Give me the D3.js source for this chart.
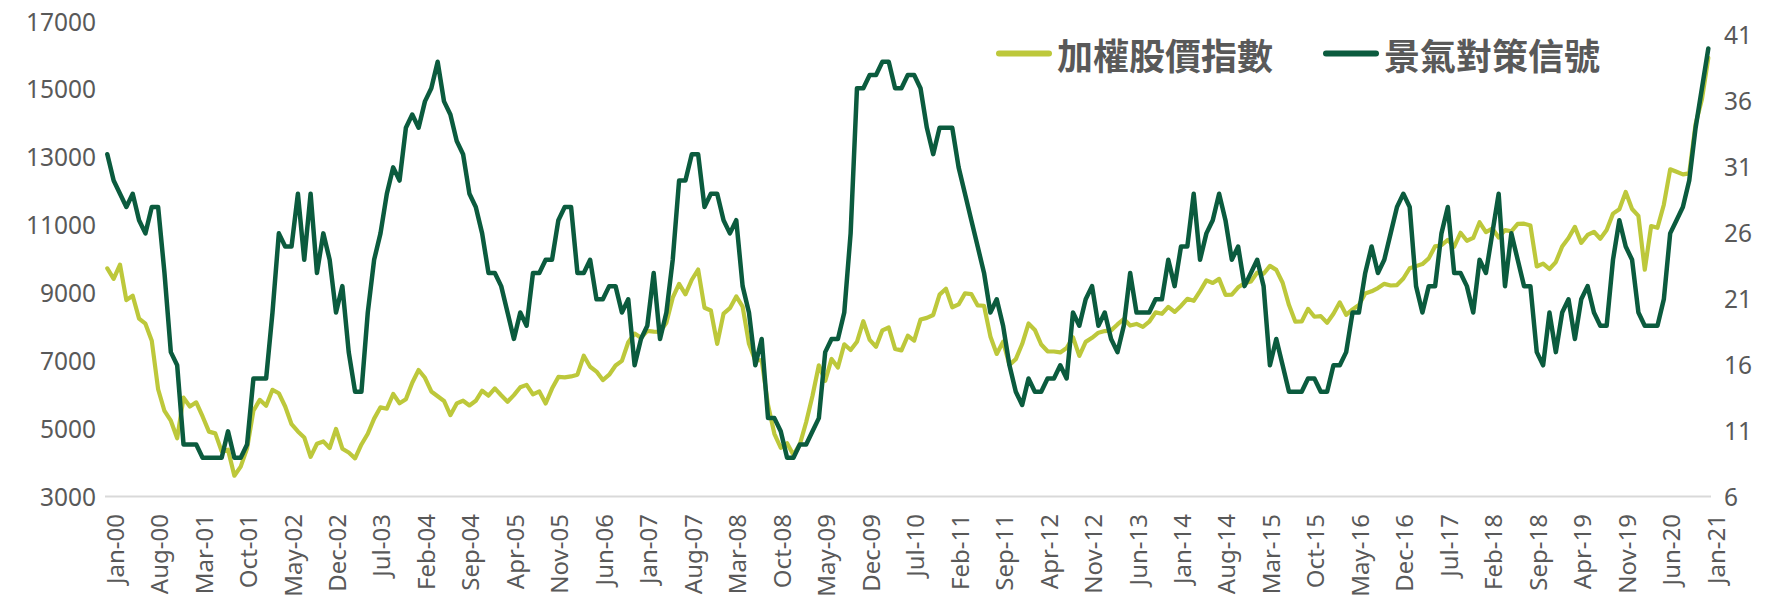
<!DOCTYPE html>
<html>
<head>
<meta charset="utf-8">
<script src="https://cdn.jsdelivr.net/npm/d3@7"></script>
<style>
  body { margin: 0; background: #fff; }
  svg { display: block; }
</style>
</head>
<body>
<div id="chart"></div>
<script>
// monthly categories, Jan-00 .. Jan-21
const months = d3.timeMonth
  .range(new Date(2000, 0, 1), new Date(2021, 1, 1))
  .map(d3.timeFormat("%b-%y"));

const xTickLabels = [
  "Jan-00", "Aug-00", "Mar-01", "Oct-01", "May-02", "Dec-02", "Jul-03", "Feb-04",
  "Sep-04", "Apr-05", "Nov-05", "Jun-06", "Jan-07", "Aug-07", "Mar-08", "Oct-08",
  "May-09", "Dec-09", "Jul-10", "Feb-11", "Sep-11", "Apr-12", "Nov-12", "Jun-13",
  "Jan-14", "Aug-14", "Mar-15", "Oct-15", "May-16", "Dec-16", "Jul-17", "Feb-18",
  "Sep-18", "Apr-19", "Nov-19", "Jun-20", "Jan-21"
];
const leftTicks = [3000, 5000, 7000, 9000, 11000, 13000, 15000, 17000];
const rightTicks = [6, 11, 16, 21, 26, 31, 36, 41];

const seriesNames = ["加權股價指數", "景氣對策信號"];

// 加權股價指數 (left axis), one value per month
const taiex = [
  9745, 9436, 9855, 8812, 8940, 8265, 8115, 7616, 6185, 5544, 5257, 4739,
  5936, 5675, 5798, 5382, 4935, 4884, 4353, 4404, 3637, 3903, 4441, 5551,
  5872, 5696, 6167, 6066, 5675, 5154, 4940, 4764, 4192, 4579, 4647, 4452,
  5015, 4432, 4321, 4148, 4556, 4872, 5318, 5651, 5611, 6045, 5772, 5891,
  6375, 6751, 6522, 6118, 5978, 5839, 5421, 5766, 5846, 5706, 5845, 6140,
  5994, 6208, 6006, 5818, 6012, 6242, 6312, 6034, 6119, 5764, 6203, 6548,
  6533, 6562, 6614, 7172, 6847, 6704, 6455, 6612, 6883, 7021, 7568, 7824,
  7700, 7902, 7884, 7875, 8145, 8883, 9287, 8982, 9411, 9711, 8586, 8506,
  7521, 8413, 8573, 8920, 8619, 7524, 7024, 7046, 5719, 4871, 4460, 4591,
  4248, 4557, 5211, 5993, 6890, 6432, 7078, 6826, 7509, 7340, 7582, 8188,
  7640, 7436, 7920, 8004, 7374, 7329, 7761, 7617, 8238, 8287, 8372, 8973,
  9145, 8600, 8683, 9008, 8989, 8653, 8644, 7741, 7225, 7588, 6904, 7072,
  7517, 8121, 7933, 7502, 7302, 7296, 7270, 7397, 7715, 7166, 7580, 7700,
  7850, 7898, 7919, 8094, 8255, 8062, 8108, 8022, 8174, 8450, 8407, 8612,
  8463, 8640, 8849, 8791, 9076, 9393, 9316, 9436, 8967, 8975, 9187, 9307,
  9362, 9622, 9586, 9820, 9701, 9323, 8665, 8175, 8181, 8554, 8321, 8338,
  8145, 8411, 8745, 8378, 8536, 8667, 9008, 9069, 9167, 9290, 9241, 9254,
  9448, 9750, 9812, 9872, 10041, 10395, 10427, 10586, 10384, 10794, 10560, 10643,
  11104, 10815, 10919, 10658, 10875, 10837, 11058, 11064, 11006, 9802, 9888, 9727,
  9932, 10389, 10641, 10968, 10498, 10731, 10824, 10618, 10875, 11359, 11490, 11997,
  11495, 11292, 9708, 10992, 10942, 11621, 12665, 12591, 12516, 12547, 14000, 14733,
  15950
];

// 景氣對策信號 score (right axis), one value per month
const signal = [
  32, 30, 29, 28, 29, 27, 26, 28, 28, 23, 17, 16,
  10, 10, 10, 9, 9, 9, 9, 11, 9, 9, 10, 15,
  15, 15, 20, 26, 25, 25, 29, 24, 29, 23, 26, 24,
  20, 22, 17, 14, 14, 20, 24, 26, 29, 31, 30, 34,
  35, 34, 36, 37, 39, 36, 35, 33, 32, 29, 28, 26,
  23, 23, 22, 20, 18, 20, 19, 23, 23, 24, 24, 27,
  28, 28, 23, 23, 24, 21, 21, 22, 22, 20, 21, 16,
  18, 19, 23, 18, 20, 24, 30, 30, 32, 32, 28, 29,
  29, 27, 26, 27, 22, 20, 16, 18, 12, 12, 11, 9,
  9, 10, 10, 11, 12, 17, 18, 18, 20, 26, 37, 37,
  38, 38, 39, 39, 37, 37, 38, 38, 37, 34, 32, 34,
  34, 34, 31, 29, 27, 25, 23, 20, 21, 19, 16, 14,
  13, 15, 14, 14, 15, 15, 16, 15, 20, 19, 21, 22,
  19, 20, 18, 17, 19, 23, 20, 20, 20, 21, 21, 24,
  22, 25, 25, 29, 24, 26, 27, 29, 27, 24, 25, 22,
  23, 24, 22, 16, 18, 16, 14, 14, 14, 15, 15, 14,
  14, 16, 16, 17, 20, 20, 23, 25, 23, 24, 26, 28,
  29, 28, 22, 20, 22, 22, 26, 28, 23, 23, 22, 20,
  24, 23, 26, 29, 22, 26, 24, 22, 22, 17, 16, 20,
  17, 20, 21, 18, 21, 22, 20, 19, 19, 24, 27, 25,
  24, 20, 19, 19, 19, 21, 26, 27, 28, 30, 34, 37,
  40
];

const width = 1765, height = 600;
const lightGreen = "#BDC83B", darkGreen = "#0B5B3E", textColor = "#595959";
const numFont = "'Noto Sans', 'Open Sans', sans-serif";
const cjkFont = "'Noto Sans CJK TC', 'Noto Sans CJK SC', sans-serif";

const svg = d3.select("#chart").append("svg")
  .attr("width", width)
  .attr("height", height)
  .style("background", "#fff");

const x = d3.scalePoint().domain(months).range([107.3, 1708.3]);
const yLeft = d3.scaleLinear().domain([3000, 17000]).range([497.3, 22.2]);
const yRight = d3.scaleLinear().domain([6, 42]).range([497.3, 22.2]);

// baseline
svg.append("line")
  .attr("x1", 105).attr("x2", 1711)
  .attr("y1", 496.5).attr("y2", 496.5)
  .attr("stroke", "#D9D9D9")
  .attr("stroke-width", 2);

// left axis
const gl = svg.append("g")
  .attr("transform", "translate(96,0)")
  .call(d3.axisLeft(yLeft).tickValues(leftTicks).tickSize(0).tickPadding(0).tickFormat(d3.format("d")));
gl.select(".domain").remove();
gl.selectAll("text")
  .attr("fill", textColor)
  .style("font-family", numFont)
  .style("font-size", "24.5px");

// right axis
const gr = svg.append("g")
  .attr("transform", "translate(1724,0)")
  .call(d3.axisRight(yRight).tickValues(rightTicks).tickSize(0).tickPadding(0));
gr.select(".domain").remove();
gr.selectAll("text")
  .attr("fill", textColor)
  .style("font-family", numFont)
  .style("font-size", "24.5px");

// bottom axis, rotated labels
const gb = svg.append("g")
  .call(d3.axisBottom(x).tickValues(xTickLabels).tickSize(0));
gb.select(".domain").remove();
gb.selectAll("text")
  .attr("x", 0)
  .attr("y", 0)
  .attr("dy", "0.66em")
  .attr("transform", "translate(0,514) rotate(-90)")
  .style("text-anchor", "end")
  .attr("fill", textColor)
  .style("font-family", numFont)
  .style("font-size", "24px");

// lines
const lineLeft = d3.line()
  .x((d, i) => x(months[i]))
  .y(d => yLeft(d));
const lineRight = d3.line()
  .x((d, i) => x(months[i]))
  .y(d => yRight(d));

svg.append("path")
  .datum(taiex)
  .attr("d", lineLeft)
  .attr("fill", "none")
  .attr("stroke", lightGreen)
  .attr("stroke-width", 4.2)
  .attr("stroke-linejoin", "round")
  .attr("stroke-linecap", "round");

svg.append("path")
  .datum(signal)
  .attr("d", lineRight)
  .attr("fill", "none")
  .attr("stroke", darkGreen)
  .attr("stroke-width", 4.5)
  .attr("stroke-linejoin", "round")
  .attr("stroke-linecap", "round");

// legend
const legendItems = [
  { name: seriesNames[0], color: lightGreen, x: 997 },
  { name: seriesNames[1], color: darkGreen, x: 1324 }
];
const lg = svg.append("g").selectAll("g")
  .data(legendItems)
  .enter()
  .append("g")
  .attr("transform", d => `translate(${d.x},53.5)`);
lg.append("line")
  .attr("x1", 2).attr("x2", 52)
  .attr("stroke", d => d.color)
  .attr("stroke-width", 6)
  .attr("stroke-linecap", "round");
lg.append("text")
  .attr("x", 60)
  .attr("y", 16)
  .text(d => d.name)
  .attr("fill", textColor)
  .style("font-family", cjkFont)
  .style("font-weight", "bold")
  .style("font-size", "36px");
</script>
</body>
</html>
